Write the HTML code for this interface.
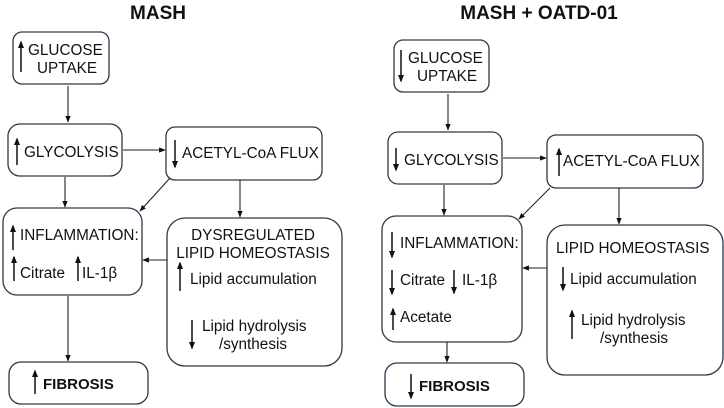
<!DOCTYPE html>
<html><head><meta charset="utf-8"><style>
html,body{margin:0;padding:0;background:#fff;width:724px;height:408px;overflow:hidden}
svg{display:block}
text{font-family:"Liberation Sans",Arial,sans-serif;font-size:15.3px;fill:#111}
.b{font-weight:bold;font-size:15px}
.box{fill:#fff;stroke:#2b3a4a;stroke-width:1.3}
.ln{stroke:#222;stroke-width:1.1;fill:none}
.ar{stroke:#111;stroke-width:1.5;fill:none}
</style></head><body>
<svg width="724" height="408" viewBox="0 0 724 408">
<defs>
<marker id="m" viewBox="0 0 10 10" refX="9" refY="5" markerWidth="6" markerHeight="6" orient="auto"><path d="M0,1 L10,5 L0,9 z" fill="#111"/></marker>
<marker id="s" viewBox="0 0 10 10" refX="8" refY="5" markerWidth="5" markerHeight="5" orient="auto"><path d="M0,1 L10,5 L0,9 z" fill="#111"/></marker>
</defs>

<!-- LEFT -->
<text x="158" y="19" text-anchor="middle" class="b" style="font-size:19px">MASH</text>
<rect class="box" x="13" y="32" width="96" height="52" rx="9"/>
<rect class="box" x="8" y="124" width="114" height="52" rx="12"/>
<rect class="box" x="166" y="127" width="156" height="53" rx="9"/>
<rect class="box" x="3" y="208" width="139" height="87" rx="14"/>
<rect class="box" x="167" y="218" width="175" height="148" rx="18"/>
<rect class="box" x="9" y="362" width="139" height="42" rx="12"/>

<line class="ln" x1="68" y1="86" x2="68" y2="122" marker-end="url(#m)"/>
<line class="ln" x1="123" y1="150" x2="165" y2="150" marker-end="url(#m)"/>
<line class="ln" x1="65" y1="177" x2="65" y2="207" marker-end="url(#m)"/>
<line class="ln" x1="170" y1="178" x2="140" y2="211" marker-end="url(#m)"/>
<line class="ln" x1="240" y1="180" x2="240" y2="217" marker-end="url(#m)"/>
<line class="ln" x1="167" y1="260" x2="143" y2="260" marker-end="url(#m)"/>
<line class="ln" x1="68" y1="296" x2="68" y2="361" marker-end="url(#m)"/>

<line class="ar" x1="21" y1="72" x2="21" y2="42" marker-end="url(#s)"/>
<text x="28" y="55">GLUCOSE</text><text x="37" y="73">UPTAKE</text>
<line class="ar" x1="17" y1="165" x2="17" y2="139" marker-end="url(#s)"/>
<text x="24" y="157">GLYCOLYSIS</text>
<line class="ar" x1="175" y1="140" x2="175" y2="167" marker-end="url(#s)"/>
<text x="182" y="158">ACETYL-CoA FLUX</text>
<line class="ar" x1="13" y1="250" x2="13" y2="226" marker-end="url(#s)"/>
<text x="20" y="240">INFLAMMATION:</text>
<line class="ar" x1="14" y1="281" x2="14" y2="257" marker-end="url(#s)"/>
<text x="20" y="278">Citrate</text>
<line class="ar" x1="78" y1="281" x2="78" y2="257" marker-end="url(#s)"/>
<text x="82" y="278">IL-1β</text>
<text x="253" y="240" text-anchor="middle">DYSREGULATED</text>
<text x="253" y="258" text-anchor="middle">LIPID HOMEOSTASIS</text>
<line class="ar" x1="180" y1="291" x2="180" y2="263" marker-end="url(#s)"/>
<text x="190" y="284">Lipid accumulation</text>
<line class="ar" x1="192" y1="320" x2="192" y2="348" marker-end="url(#s)"/>
<text x="202" y="331">Lipid hydrolysis</text>
<text x="219" y="349">/synthesis</text>
<line class="ar" x1="35" y1="394" x2="35" y2="371" marker-end="url(#s)"/>
<text x="43" y="389" class="b">FIBROSIS</text>

<!-- RIGHT -->
<text x="539" y="19" text-anchor="middle" class="b" style="font-size:19px">MASH + OATD-01</text>
<rect class="box" x="394" y="40" width="95" height="52" rx="9"/>
<rect class="box" x="388" y="132" width="114" height="52" rx="10"/>
<rect class="box" x="547" y="135" width="156" height="53" rx="9"/>
<rect class="box" x="382" y="216" width="140" height="126" rx="14"/>
<rect class="box" x="547" y="225" width="176" height="150" rx="18"/>
<rect class="box" x="385" y="363" width="139" height="43" rx="12"/>

<line class="ln" x1="448" y1="94" x2="448" y2="130" marker-end="url(#m)"/>
<line class="ln" x1="503" y1="158" x2="546" y2="158" marker-end="url(#m)"/>
<line class="ln" x1="444" y1="185" x2="444" y2="215" marker-end="url(#m)"/>
<line class="ln" x1="550" y1="188" x2="519" y2="219" marker-end="url(#m)"/>
<line class="ln" x1="619" y1="188" x2="619" y2="224" marker-end="url(#m)"/>
<line class="ln" x1="547" y1="268" x2="523" y2="268" marker-end="url(#m)"/>
<line class="ln" x1="447" y1="342" x2="447" y2="362" marker-end="url(#m)"/>

<line class="ar" x1="401" y1="50" x2="401" y2="81" marker-end="url(#s)"/>
<text x="408" y="63">GLUCOSE</text><text x="417" y="81">UPTAKE</text>
<line class="ar" x1="396" y1="148" x2="396" y2="170" marker-end="url(#s)"/>
<text x="404" y="165">GLYCOLYSIS</text>
<line class="ar" x1="559" y1="176" x2="559" y2="149" marker-end="url(#s)"/>
<text x="563" y="166">ACETYL-CoA FLUX</text>
<line class="ar" x1="392" y1="232" x2="392" y2="257" marker-end="url(#s)"/>
<text x="400" y="248">INFLAMMATION:</text>
<line class="ar" x1="392" y1="270" x2="392" y2="294" marker-end="url(#s)"/>
<text x="400" y="285">Citrate</text>
<line class="ar" x1="454" y1="270" x2="454" y2="293" marker-end="url(#s)"/>
<text x="462" y="285">IL-1β</text>
<line class="ar" x1="393" y1="330" x2="393" y2="309" marker-end="url(#s)"/>
<text x="400" y="322">Acetate</text>
<text x="556" y="253">LIPID HOMEOSTASIS</text>
<line class="ar" x1="563" y1="267" x2="563" y2="290" marker-end="url(#s)"/>
<text x="570" y="284">Lipid accumulation</text>
<line class="ar" x1="572" y1="339" x2="572" y2="311" marker-end="url(#s)"/>
<text x="581" y="325">Lipid hydrolysis</text>
<text x="600" y="343">/synthesis</text>
<line class="ar" x1="411" y1="374" x2="411" y2="398" marker-end="url(#s)"/>
<text x="419" y="391" class="b">FIBROSIS</text>
</svg>
</body></html>
